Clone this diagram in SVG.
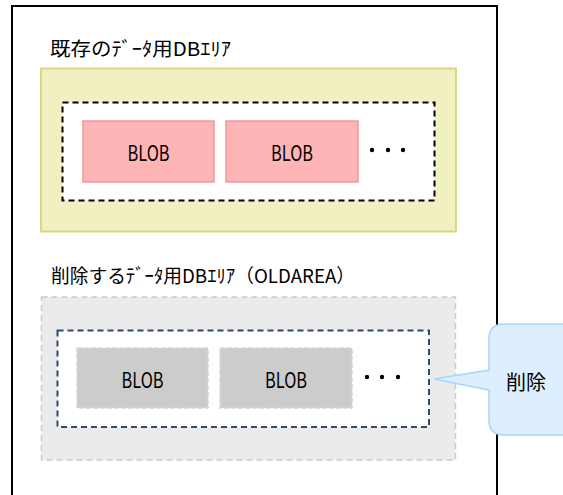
<svg xmlns="http://www.w3.org/2000/svg" width="563" height="495" viewBox="0 0 563 495">
<style>
.t{font-family:"Noto Sans CJK JP","Noto Sans",sans-serif;fill:#000;}
.title{font-size:19px;}
.blob{font-size:21px;text-anchor:middle;dominant-baseline:central;}
.dot{fill:#000;}
</style>
<rect width="563" height="495" fill="#fff"/>
<g id="frame">
<path d="M12,510 V6 H497 V510" fill="none" stroke="#000" stroke-width="2"/>
</g>
<g id="area1">
<text class="t title" x="50" y="56" textLength="181" lengthAdjust="spacingAndGlyphs">既存のﾃﾞｰﾀ用DBｴﾘｱ</text>
<rect x="41" y="68.5" width="415" height="163" fill="#F0F0C0" stroke="#D8D880" stroke-width="2"/>
<rect x="62.5" y="102.5" width="372" height="98" fill="#fff" stroke="#000" stroke-width="2" stroke-dasharray="6,4"/>
</g>
<g id="blob1">
<rect x="83" y="121" width="131" height="61" fill="#FFB5B5" stroke="#F59595" stroke-width="1.5"/>
<text class="t blob" x="148.5" y="152" textLength="42" lengthAdjust="spacingAndGlyphs">BLOB</text>
</g>
<g id="blob2">
<rect x="226" y="121" width="132" height="61" fill="#FFB5B5" stroke="#F59595" stroke-width="1.5"/>
<text class="t blob" x="292" y="152" textLength="42" lengthAdjust="spacingAndGlyphs">BLOB</text>
</g>
<g id="dots1">
<circle class="dot" cx="372" cy="150" r="2.2"/>
<circle class="dot" cx="388" cy="150" r="2.2"/>
<circle class="dot" cx="403" cy="150" r="2.2"/>
</g>
<g id="area2">
<text class="t title" x="51" y="283" textLength="304" lengthAdjust="spacingAndGlyphs">削除するﾃﾞｰﾀ用DBｴﾘｱ（OLDAREA）</text>
<rect x="41.5" y="297" width="414" height="163" fill="#EBEBEB" stroke="#CCCCCC" stroke-width="1.5" stroke-dasharray="6,4"/>
<rect x="57.5" y="330.5" width="371.5" height="96.5" fill="#fff" stroke="#2E4A6E" stroke-width="2" stroke-dasharray="6,4"/>
</g>
<g id="blob3">
<rect x="77" y="348" width="131" height="60" fill="#CCCCCC" stroke="#D6D6D6" stroke-width="1.5" stroke-dasharray="5,2"/>
<text class="t blob" x="142.5" y="379" textLength="42" lengthAdjust="spacingAndGlyphs">BLOB</text>
</g>
<g id="blob4">
<rect x="220" y="348" width="132" height="60" fill="#CCCCCC" stroke="#D6D6D6" stroke-width="1.5" stroke-dasharray="5,2"/>
<text class="t blob" x="286" y="379" textLength="42" lengthAdjust="spacingAndGlyphs">BLOB</text>
</g>
<g id="dots2">
<circle class="dot" cx="367" cy="377" r="2.2"/>
<circle class="dot" cx="382" cy="377" r="2.2"/>
<circle class="dot" cx="398" cy="377" r="2.2"/>
</g>
<g id="connectors"></g>
<g id="callout">
<path d="M504,324 H600 V435 H504 Q489,435 489,420 V390 L434,379 L489,370 V339 Q489,324 504,324 Z" fill="#DDEEFF" stroke="#A8D4FF" stroke-width="1.5"/>
<text class="t" x="526" y="381" font-size="20" text-anchor="middle" dominant-baseline="central">削除</text>
</g>
</svg>
